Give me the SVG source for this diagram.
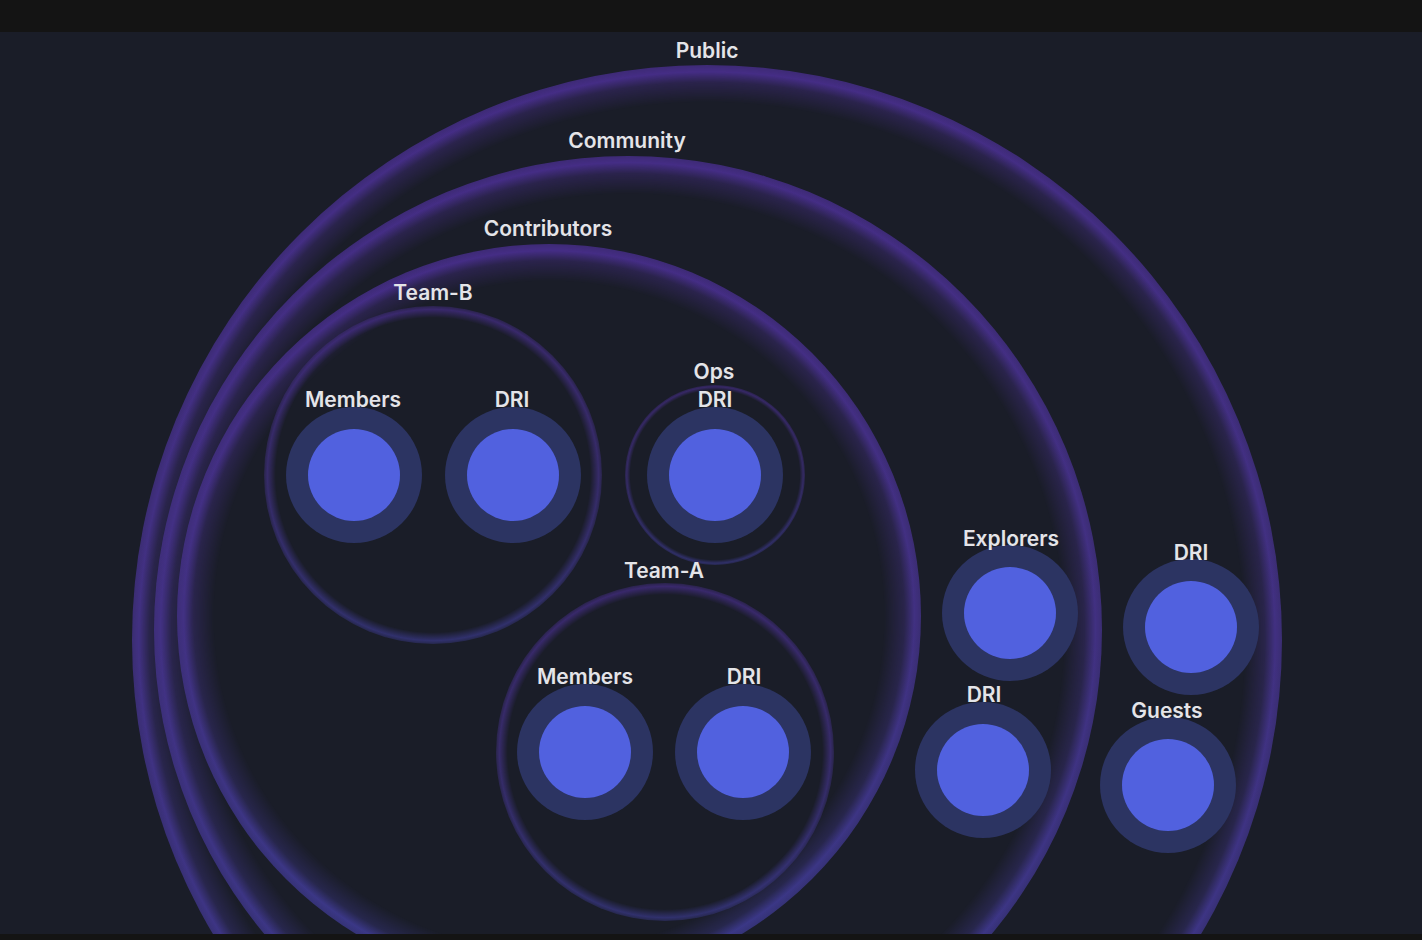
<svg xmlns="http://www.w3.org/2000/svg" width="1422" height="940" viewBox="0 0 1422 940">
<style>
.lbl{font-family:Inter,"Liberation Sans",sans-serif;font-weight:600;font-size:21px;fill:#e4e4e8;text-anchor:middle}
.outer{fill:#2c3462}
.inner{fill:#5161df}
</style>
<defs>
<linearGradient id="pb" x1="0" y1="0" x2="0" y2="1">
<stop offset="0" stop-color="#4a2f90"/>
<stop offset="0.5" stop-color="#46338c"/>
<stop offset="1" stop-color="#3d3c92"/>
</linearGradient>
<radialGradient id="gPub" cx="0.5" cy="0.5" r="0.5"><stop offset="0.935" stop-color="#fff" stop-opacity="0"/><stop offset="0.97" stop-color="#fff" stop-opacity="0.35"/><stop offset="0.988" stop-color="#fff" stop-opacity="0.9"/><stop offset="1" stop-color="#fff" stop-opacity="0.75"/></radialGradient>
<radialGradient id="gCom" cx="0.5" cy="0.5" r="0.5"><stop offset="0.92" stop-color="#fff" stop-opacity="0"/><stop offset="0.963" stop-color="#fff" stop-opacity="0.35"/><stop offset="0.986" stop-color="#fff" stop-opacity="0.9"/><stop offset="1" stop-color="#fff" stop-opacity="0.75"/></radialGradient>
<radialGradient id="gCon" cx="0.5" cy="0.5" r="0.5"><stop offset="0.9" stop-color="#fff" stop-opacity="0"/><stop offset="0.955" stop-color="#fff" stop-opacity="0.35"/><stop offset="0.982" stop-color="#fff" stop-opacity="0.9"/><stop offset="1" stop-color="#fff" stop-opacity="0.75"/></radialGradient>
<radialGradient id="gTeam" cx="0.5" cy="0.5" r="0.5"><stop offset="0.93" stop-color="#fff" stop-opacity="0"/><stop offset="0.98" stop-color="#fff" stop-opacity="0.65"/><stop offset="1" stop-color="#fff" stop-opacity="0.35"/></radialGradient>
<radialGradient id="gOps" cx="0.5" cy="0.5" r="0.5"><stop offset="0.94" stop-color="#fff" stop-opacity="0"/><stop offset="0.98" stop-color="#fff" stop-opacity="0.6"/><stop offset="1" stop-color="#fff" stop-opacity="0.35"/></radialGradient>
<mask id="mPub" maskContentUnits="objectBoundingBox"><rect width="1" height="1" fill="url(#gPub)"/></mask>
<mask id="mCom" maskContentUnits="objectBoundingBox"><rect width="1" height="1" fill="url(#gCom)"/></mask>
<mask id="mCon" maskContentUnits="objectBoundingBox"><rect width="1" height="1" fill="url(#gCon)"/></mask>
<mask id="mTeam" maskContentUnits="objectBoundingBox"><rect width="1" height="1" fill="url(#gTeam)"/></mask>
<mask id="mOps" maskContentUnits="objectBoundingBox"><rect width="1" height="1" fill="url(#gOps)"/></mask>
</defs>
<rect width="1422" height="940" fill="#1a1d28"/>

<g id="public">
<circle cx="707" cy="640" r="575" fill="url(#pb)" mask="url(#mPub)"/>
<text class="lbl" x="707" y="58">Public</text>
</g>
<g id="community">
<circle cx="628" cy="630" r="474" fill="url(#pb)" mask="url(#mCom)"/>
<text class="lbl" x="627" y="148">Community</text>
</g>
<g id="contributors">
<circle cx="549" cy="616" r="372" fill="url(#pb)" mask="url(#mCon)"/>
<text class="lbl" x="548" y="236">Contributors</text>
</g>
<g id="team-b">
<circle cx="433" cy="475" r="169" fill="url(#pb)" mask="url(#mTeam)"/>
<text class="lbl" x="433" y="300">Team-B</text>
</g>
<g id="ops">
<circle cx="715" cy="475" r="90" fill="url(#pb)" mask="url(#mOps)"/>
<text class="lbl" x="714" y="379">Ops</text>
</g>
<g id="team-a">
<circle cx="665" cy="752" r="169" fill="url(#pb)" mask="url(#mTeam)"/>
<text class="lbl" x="664" y="578">Team-A</text>
</g>

<g id="teamb-members"><circle class="outer" cx="354" cy="475" r="68"/><circle class="inner" cx="354" cy="475" r="46"/><text class="lbl" x="353" y="407">Members</text></g>
<g id="teamb-dri"><circle class="outer" cx="513" cy="475" r="68"/><circle class="inner" cx="513" cy="475" r="46"/><text class="lbl" x="512" y="407">DRI</text></g>
<g id="ops-dri"><circle class="outer" cx="715" cy="475" r="68"/><circle class="inner" cx="715" cy="475" r="46"/><text class="lbl" x="715" y="407">DRI</text></g>
<g id="teama-members"><circle class="outer" cx="585" cy="752" r="68"/><circle class="inner" cx="585" cy="752" r="46"/><text class="lbl" x="585" y="684">Members</text></g>
<g id="teama-dri"><circle class="outer" cx="743" cy="752" r="68"/><circle class="inner" cx="743" cy="752" r="46"/><text class="lbl" x="744" y="684">DRI</text></g>
<g id="explorers"><circle class="outer" cx="1010" cy="613" r="68"/><circle class="inner" cx="1010" cy="613" r="46"/><text class="lbl" x="1011" y="546">Explorers</text></g>
<g id="community-dri"><circle class="outer" cx="983" cy="770" r="68"/><circle class="inner" cx="983" cy="770" r="46"/><text class="lbl" x="984" y="702">DRI</text></g>
<g id="public-dri"><circle class="outer" cx="1191" cy="627" r="68"/><circle class="inner" cx="1191" cy="627" r="46"/><text class="lbl" x="1191" y="560">DRI</text></g>
<g id="guests"><circle class="outer" cx="1168" cy="785" r="68"/><circle class="inner" cx="1168" cy="785" r="46"/><text class="lbl" x="1167" y="718">Guests</text></g>

<g id="connectors"/>

<rect x="0" y="0" width="1422" height="32" fill="#141414"/>
<rect x="0" y="934" width="1422" height="6" fill="#141414"/>
</svg>
